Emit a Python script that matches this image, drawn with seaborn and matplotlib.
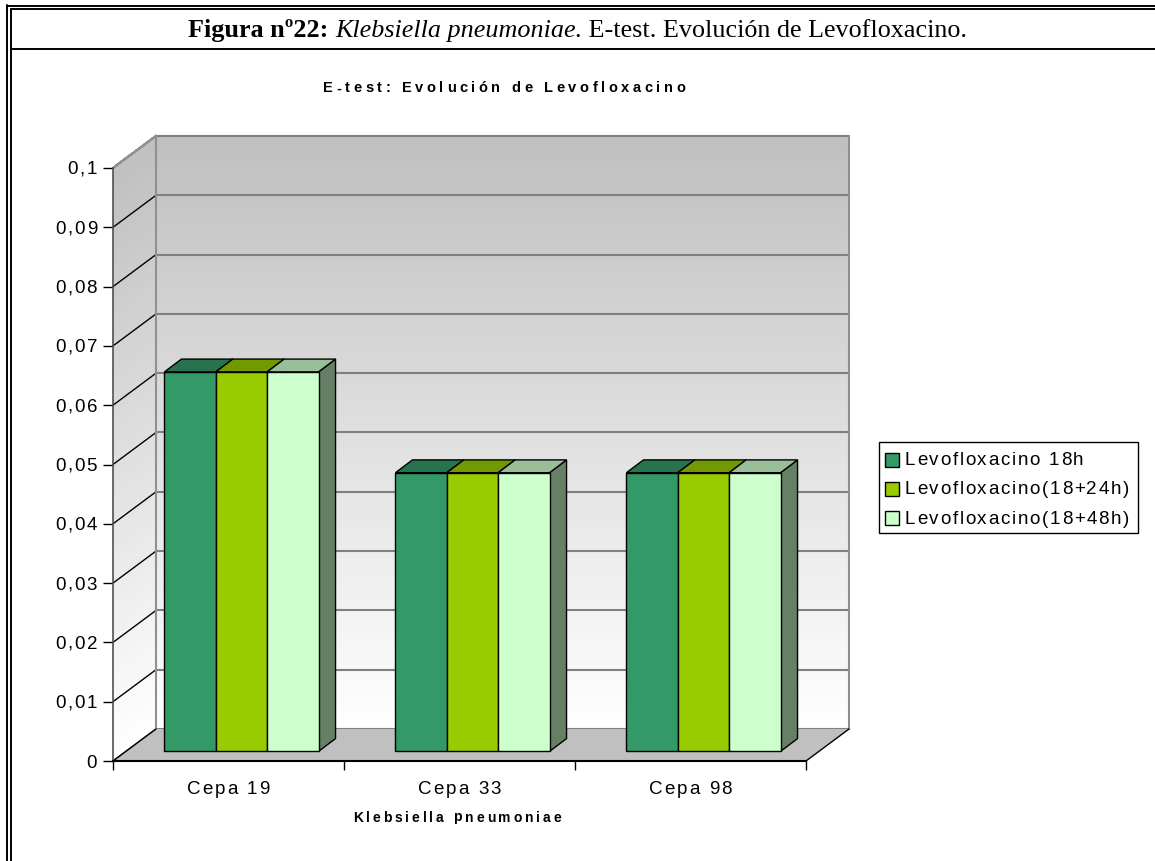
import numpy as np
import pandas as pd
import matplotlib
matplotlib.use("Agg")
import matplotlib.pyplot as plt
import seaborn as sns
from matplotlib.patches import Polygon, Rectangle
from matplotlib.lines import Line2D
from matplotlib.transforms import IdentityTransform
from matplotlib.font_manager import FontProperties

# datos (CMI, E-test)
cepas = ["Cepa 19", "Cepa 33", "Cepa 98"]
series = ["Levofloxacino 18h", "Levofloxacino(18+24h)", "Levofloxacino(18+48h)"]
levo_18h = [0.064, 0.047, 0.047]
levo_18_24h = [0.064, 0.047, 0.047]
levo_18_48h = [0.064, 0.047, 0.047]
colores = ["#339966", "#99CC00", "#CCFFCC"]
y_ticks = [0, 0.01, 0.02, 0.03, 0.04, 0.05, 0.06, 0.07, 0.08, 0.09, 0.1]
y_labels = ["0", "0,01", "0,02", "0,03", "0,04", "0,05", "0,06", "0,07", "0,08", "0,09", "0,1"]

W, H = 1155, 861
sns.set_theme(style="white")
plt.rcParams["font.family"] = ["Liberation Sans", "DejaVu Sans"]

df = pd.DataFrame({
    "cepa": cepas * 3,
    "serie": [series[0]] * 3 + [series[1]] * 3 + [series[2]] * 3,
    "cmi": levo_18h + levo_18_24h + levo_18_48h,
})

fig = plt.figure(figsize=(W / 100, H / 100), dpi=100)
fig.patch.set_facecolor("white")


def fx(px):
    return px / W


def fy(py):
    return 1 - py / H


ax = fig.add_axes([fx(113), fy(761), (806 - 113) / W, (761 - 168) / H])
ax.patch.set_alpha(0)
sns.barplot(data=df, x="cepa", y="cmi", hue="serie", hue_order=series, order=cepas,
            palette=colores, saturation=1, width=0.667, edgecolor="black",
            linewidth=1, legend=False, errorbar=None, ax=ax)
ax.set_xlim(-0.5, 2.5)
ax.set_ylim(0, 0.1)
ax.grid(False)

# profundidad 3D (px)
D = np.array([43.0, 32.0])
F = np.array([13.0, 9.6])
d = np.array([17.0, 12.8])


def pt(x, y, off=(0, 0)):
    return ax.transData.transform((x, y)) + np.asarray(off)


def poly(points, **kw):
    p = Polygon(points, closed=True, transform=IdentityTransform(), **kw)
    p.set_clip_on(False)
    ax.add_artist(p)
    return p


def line(p0, p1, **kw):
    l = Line2D([p0[0], p1[0]], [p0[1], p1[1]], transform=IdentityTransform(), **kw)
    l.set_clip_on(False)
    ax.add_artist(l)


# paredes con degradado
n = 80
for i in range(n):
    y0 = 0.1 * i / n
    y1 = 0.1 * (i + 1) / n + 0.0002
    g = 1 - 0.25 * (i + 0.5) / n
    c = (g, g, g)
    poly([pt(-0.5, y0, D), pt(2.5, y0, D), pt(2.5, y1, D), pt(-0.5, y1, D)],
         facecolor=c, edgecolor="none", antialiased=False, zorder=0.2)
    poly([pt(-0.5, y0), pt(-0.5, y0, D), pt(-0.5, y1, D), pt(-0.5, y1)],
         facecolor=c, edgecolor="none", antialiased=False, zorder=0.2)

for yt in y_ticks:
    line(pt(-0.5, yt, D), pt(2.5, yt, D), color="#808080", lw=1.5, zorder=0.3)
    line(pt(-0.5, yt), pt(-0.5, yt, D), color="black", lw=1, zorder=0.3)

line(pt(-0.5, 0, D), pt(-0.5, 0.1, D), color="#909090", lw=1.5, zorder=0.3)
line(pt(2.5, 0, D), pt(2.5, 0.1, D), color="#909090", lw=1.5, zorder=0.3)
line(pt(-0.5, 0.1), pt(-0.5, 0.1, D), color="#909090", lw=1.5, zorder=0.3)

# suelo
poly([pt(-0.5, 0), pt(2.5, 0), pt(2.5, 0, D), pt(-0.5, 0, D)],
     facecolor="#c0c0c0", edgecolor="none", zorder=0.4)
line(pt(2.5, 0), pt(2.5, 0, D), color="black", lw=1, zorder=0.5)
line(pt(-0.5, 0), pt(-0.5, 0, D), color="black", lw=1, zorder=0.5)

# barras 3D
for cont, col in zip(ax.containers, colores):
    rgb = np.array(matplotlib.colors.to_rgb(col))
    for bar in cont:
        x0, w, h = bar.get_x(), bar.get_width(), bar.get_height()
        verts = [pt(x0, 0, F), pt(x0 + w, 0, F), pt(x0 + w, h, F), pt(x0, h, F)]
        bar.set_visible(False)
        poly(verts, facecolor=col, edgecolor="black", lw=1, zorder=3)
        poly([pt(x0, h, F), pt(x0 + w, h, F), pt(x0 + w, h, F + d), pt(x0, h, F + d)],
             facecolor=rgb * 0.75, edgecolor="black", lw=1, zorder=4)
        poly([pt(x0 + w, 0, F), pt(x0 + w, 0, F + d), pt(x0 + w, h, F + d), pt(x0 + w, h, F)],
             facecolor=rgb * 0.5, edgecolor="black", lw=1, zorder=2)

# ejes
for s in ["top", "right"]:
    ax.spines[s].set_visible(False)
ax.spines["left"].set_color("#505050")
ax.spines["left"].set_linewidth(1.2)
ax.spines["bottom"].set_color("black")
ax.spines["bottom"].set_linewidth(1.5)
ax.spines["left"].set_zorder(5)
ax.spines["bottom"].set_zorder(5)
ax.set_yticks(y_ticks)
ax.set_yticklabels([])
ax.set_xticks([-0.5, 0.5, 1.5, 2.5])
ax.set_xticklabels([])
ax.tick_params(axis="y", left=True, direction="out", length=7.5, width=1, color="black")
ax.tick_params(axis="x", bottom=True, direction="out", length=6.5, width=1, color="black")
ax.set_xlabel("")
ax.set_ylabel("")

fig.canvas.draw()
renderer = fig.canvas.get_renderer()


def adv(c, fp):
    a = renderer.get_text_width_height_descent("x" + c + "x", fp, ismath=False)[0]
    b = renderer.get_text_width_height_descent("xx", fp, ismath=False)[0]
    return a - b


def spaced_text(x, y, s, size, track, weight="normal", ha="center"):
    # texto con espaciado entre letras, coordenadas en px de la imagen
    fp = FontProperties(family="Liberation Sans", size=size, weight=weight)
    widths = [adv(c, fp) for c in s]
    total = sum(widths) + track * (len(s) - 1)
    if ha == "center":
        px = x - total / 2
    elif ha == "right":
        px = x - total
    else:
        px = x
    for c, w in zip(s, widths):
        if c != " ":
            fig.text(fx(px + w / 2), fy(y), c, fontproperties=fp, ha="center",
                     va="center_baseline", color="black")
        px += w + track


spaced_text(323, 87, "E-test: Evolución de Levofloxacino", 10.5, 3.6, weight="bold", ha="left")
for cx, name in zip([0, 1, 2], cepas):
    spaced_text(pt(cx, 0)[0], 787, name, 13.5, 2)
for yt, lab in zip(y_ticks, y_labels):
    spaced_text(97, H - pt(-0.5, yt)[1], lab, 13.5, 1.8, ha="right")
spaced_text(457, 816, "Klebsiella pneumoniae", 10, 2.9, weight="bold")

# leyenda
fig.add_artist(Rectangle((fx(879), fy(533)), (1138 - 879) / W, (533 - 442) / H,
                         transform=fig.transFigure, facecolor="white",
                         edgecolor="black", lw=1))
for k, (s, c) in enumerate(zip(series, colores)):
    yc = 458.5 + 29.3 * k
    fig.add_artist(Rectangle((fx(885), fy(yc + 8)), 14 / W, 14 / H,
                             transform=fig.transFigure, facecolor=c,
                             edgecolor="black", lw=1))
    spaced_text(905, yc, s, 13.5, 1.7, ha="left")

# marco y cabecera
fig.add_artist(Line2D([fx(7), fx(7)], [fy(5), 0], color="black", lw=1.4))
fig.add_artist(Line2D([fx(11), fx(11)], [fy(9), 0], color="black", lw=1.4))
fig.add_artist(Line2D([fx(7), 1], [fy(5.5), fy(5.5)], color="black", lw=1.4))
fig.add_artist(Line2D([fx(11), 1], [fy(9), fy(9)], color="black", lw=1.4))
fig.add_artist(Line2D([fx(11), 1], [fy(48.5), fy(48.5)], color="black", lw=1.4))

serif = ["Liberation Serif", "DejaVu Serif"]
x_cur = 188
pieces = [("Figura nº22: ", "bold", "normal"),
          ("Klebsiella pneumoniae.", "normal", "italic"),
          (" E-test. Evolución de Levofloxacino.", "normal", "normal")]
for txt, wgt, sty in pieces:
    t = fig.text(fx(x_cur), fy(37), txt, family=serif, fontsize=18.8, weight=wgt,
                 style=sty, ha="left", va="baseline", color="black")
    x_cur += t.get_window_extent(renderer).width

fig.savefig("out.png", dpi=100)
